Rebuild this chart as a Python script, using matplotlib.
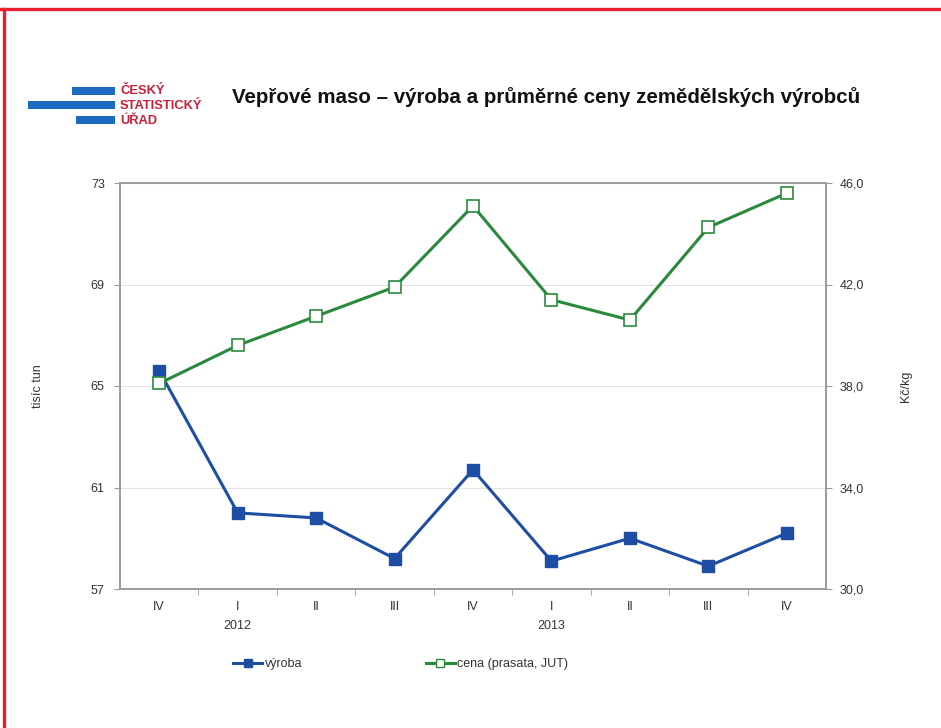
import matplotlib
matplotlib.use("Agg")
import matplotlib.pyplot as plt
from matplotlib.lines import Line2D
from matplotlib.patches import Rectangle

plt.rcParams["font.family"] = ["Liberation Sans", "DejaVu Sans"]

# ---- data ----
quarters = ["IV", "I\n2012", "II", "III", "IV", "I\n2013", "II", "III", "IV"]
vyroba = [65.6, 60.0, 59.8, 58.2, 61.7, 58.1, 59.0, 57.9, 59.2]      # tisíc tun
cena = [38.1, 39.6, 40.75, 41.9, 45.1, 41.4, 40.6, 44.25, 45.6]      # Kč/kg

left_ticks = [57, 61, 65, 69, 73]
right_ticks = [30.0, 34.0, 38.0, 42.0, 46.0]

BLUE = "#1d4ea3"
GREEN = "#2a8a3c"
GRID = "#e3e3e3"
FRAME = "#9a9a9a"
TXT = "#333333"

W, H = 941, 728
fig = plt.figure(figsize=(W / 100, H / 100), dpi=100)
fig.patch.set_facecolor("white")

# red frame (top + left only)
fig.add_artist(Line2D([0, 1], [1 - 9 / H, 1 - 9 / H], color="#e8202e", lw=2.4,
                      transform=fig.transFigure))
fig.add_artist(Line2D([4 / W, 4 / W], [0, 1 - 9 / H], color="#e8202e", lw=2.4,
                      transform=fig.transFigure))

# logo
for x0, x1, y0, y1 in [(72, 115, 87, 95), (28, 115, 101, 109), (76, 115, 116, 124)]:
    fig.add_artist(Rectangle((x0 / W, 1 - y1 / H), (x1 - x0) / W, (y1 - y0) / H,
                             color="#1b6cc0", transform=fig.transFigure, lw=0))
for txt, y in [("ČESKÝ", 91), ("STATISTICKÝ", 106), ("ÚŘAD", 121)]:
    fig.text(120 / W, 1 - y / H, txt, color="#c8203a", fontsize=9.3,
             fontweight="bold", va="center", ha="left")

fig.text(232 / W, 1 - 97 / H,
         "Vepřové maso – výroba a průměrné ceny zemědělských výrobců",
         fontsize=14.8, fontweight="bold", color="#111111", va="center", ha="left")

# ---- chart ----
ax = fig.add_axes([120 / W, 1 - 589 / H, 706 / W, 406 / H])
x = list(range(len(quarters)))
ax.set_xlim(-0.5, len(quarters) - 0.5)
ax.set_ylim(57, 73)
ax.set_yticks(left_ticks)
ax.yaxis.grid(True, color=GRID, lw=0.8)
ax.set_axisbelow(True)
ax.set_xticks(x)
ax.set_xticklabels(quarters, linespacing=1.7)
ax.set_xticks([i + 0.5 for i in x[:-1]], minor=True)
ax.tick_params(axis="x", which="major", length=0, pad=9, labelsize=9, colors=TXT)
ax.tick_params(axis="x", which="minor", length=4, color=FRAME, direction="out")
ax.tick_params(axis="y", length=4, color=FRAME, labelsize=9, labelcolor=TXT, pad=7)
ax.set_ylabel("tisíc tun", fontsize=9, color=TXT, labelpad=34)
for sp in ax.spines.values():
    sp.set_color(FRAME)
    sp.set_linewidth(1.2)

ax2 = ax.twinx()
ax2.set_ylim(30, 46)
ax2.set_yticks(right_ticks)
ax2.set_yticklabels([f"{v:.1f}".replace(".", ",") for v in right_ticks])
ax2.tick_params(axis="y", length=4, color=FRAME, labelsize=9, labelcolor=TXT, pad=5.5)
ax2.set_ylabel("Kč/kg", fontsize=9, color=TXT, labelpad=26)
for sp in ax2.spines.values():
    sp.set_color(FRAME)
    sp.set_linewidth(1.2)

ax.plot(x, vyroba, color=BLUE, lw=2.2, marker="s", ms=8.5, mfc=BLUE, mec=BLUE,
        zorder=3)
ax2.plot(x, cena, color=GREEN, lw=2.2, marker="s", ms=8.5, mfc="white", mec=GREEN,
         mew=1.2, zorder=3)

handles = [
    Line2D([], [], color=BLUE, lw=2.2, marker="s", ms=6, mfc=BLUE, mec=BLUE),
    Line2D([], [], color=GREEN, lw=2.2, marker="s", ms=6, mfc="white", mec=GREEN),
]
fig.legend(handles, ["výroba", "cena (prasata, JUT)"], ncol=2, frameon=False,
           loc="center left", bbox_to_anchor=(222 / W, 1 - 664 / H),
           fontsize=9, handlelength=2.3, handletextpad=0.2, columnspacing=9.9,
           labelcolor=TXT)

fig.savefig("out.png", dpi=100)
